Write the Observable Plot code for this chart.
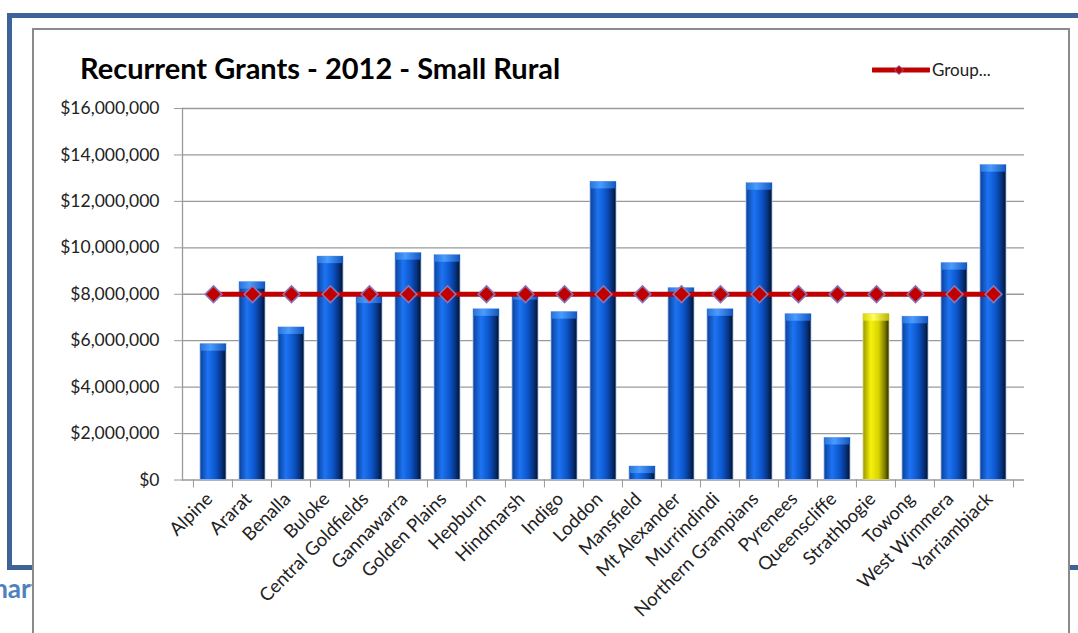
<!DOCTYPE html>
<html lang="en">
<head>
<meta charset="UTF-8">
<title>Recurrent Grants - 2012 - Small Rural</title>
<script src="https://cdn.jsdelivr.net/npm/d3@7"></script>
<script src="https://cdn.jsdelivr.net/npm/@observablehq/plot@0.6"></script>
<style>
  body { margin: 0; background: #fff; font-family: Lato, "Open Sans", sans-serif; }
  #page { position: relative; width: 1078px; height: 633px; overflow: hidden; background: #fff; }
  #frame { position: absolute; left: 7px; top: 13px; width: 1200px; height: 547px; border: 5px solid #3e6497; }
  #heading { position: absolute; left: -24px; top: 572px; font-size: 26px; font-weight: bold; color: #4f81bd; }
  #box { position: absolute; left: 32px; top: 28px; width: 1034px; height: 640px; border: 2px solid #8a8a8a; background: #fff; }
  #title { position: absolute; left: 46px; top: 20px; font-size: 29px; font-weight: bold; color: #000; white-space: nowrap; }
  #legend { position: absolute; left: 838px; top: 29px; font-size: 17px; color: #222; display: flex; align-items: center; }
  #legend svg { margin-right: 2px; }
  #chart { position: absolute; left: 0; top: 0; }
</style>
</head>
<body>
<div id="page">
  <div id="frame"></div>
  <div id="heading">Chart</div>
  <div id="box">
    <div id="chart"></div>
    <div id="title">Recurrent Grants - 2012 - Small Rural</div>
    <div id="legend">
      <svg width="58" height="16">
        <line x1="1" x2="57" y1="8" y2="8" stroke="#c00000" stroke-width="5" stroke-linecap="round"></line>
        <path d="M27,3.5L31.5,8L27,12.5L22.5,8Z" fill="#c00000" stroke="#8064a2" stroke-width="1"></path>
      </svg>
      <span>Group...</span>
    </div>
  </div>
</div>

<script>
  const councils = ["Alpine", "Ararat", "Benalla", "Buloke", "Central Goldfields", "Gannawarra",
    "Golden Plains", "Hepburn", "Hindmarsh", "Indigo", "Loddon", "Mansfield", "Mt Alexander",
    "Murrindindi", "Northern Grampians", "Pyrenees", "Queenscliffe", "Strathbogie", "Towong",
    "West Wimmera", "Yarriambiack"];

  const grants = [5850000, 8520000, 6570000, 9620000, 7900000, 9770000,
    9680000, 7350000, 8050000, 7230000, 12840000, 580000, 8260000,
    7350000, 12780000, 7140000, 1810000, 7140000, 7030000,
    9340000, 13560000];

  const groupAverage = [8000000, 8000000, 8000000, 8000000, 8000000, 8000000,
    8000000, 8000000, 8000000, 8000000, 8000000, 8000000, 8000000,
    8000000, 8000000, 8000000, 8000000, 8000000, 8000000,
    8000000, 8000000];

  const highlighted = "Strathbogie";

  const yTicks = [0, 2000000, 4000000, 6000000, 8000000, 10000000, 12000000, 14000000, 16000000];

  const rows = councils.map((name, i) => ({ name, grant: grants[i], group: groupAverage[i] }));
  const blueRows = rows.filter(d => d.name !== highlighted);
  const yellowRows = rows.filter(d => d.name === highlighted);

  const W = 1034, H = 603, mL = 148, mR = 44;
  const step = (W - mL - mR) / councils.length;
  const money = d => "$" + d3.format(",")(d);
  const axisGrey = "#9a9a9a";

  const chart = Plot.plot({
    width: W,
    height: H,
    marginLeft: mL,
    marginRight: mR,
    marginTop: 78,
    marginBottom: 153.5,
    style: { fontFamily: "Lato, 'Open Sans', sans-serif", fontSize: "15px", color: "#222", background: "transparent", overflow: "visible" },
    x: { domain: councils, padding: 0.33, axis: null, label: null },
    y: { domain: [0, 16000000], axis: null, label: null },
    marks: [
      Plot.gridY(yTicks.slice(1), { stroke: axisGrey, strokeOpacity: 1, strokeWidth: 1.3 }),
      Plot.axisY(yTicks, { tickSize: 8, tickPadding: 15, tickFormat: money, stroke: axisGrey, strokeOpacity: 1, fontSize: 17.5, fill: "#222", label: null }),
      Plot.frame({ anchor: "left", stroke: axisGrey, strokeWidth: 1.3 }),
      Plot.ruleY([0], { stroke: axisGrey, strokeWidth: 1.3 }),
      Plot.axisX({ tickSize: 8, dx: -step / 2, tickFormat: () => "", stroke: axisGrey, strokeOpacity: 1, label: null }),
      Plot.axisX([councils[councils.length - 1]], { tickSize: 8, dx: step / 2, tickFormat: () => "", stroke: axisGrey, strokeOpacity: 1, label: null }),
      Plot.axisX({ tickSize: 0, tickPadding: 16, dx: -4, tickRotate: -45, fontSize: 18.5, fill: "#222", label: null }),
      Plot.barY(blueRows, { x: "name", y: "grant", fill: "url(#gBlue)", stroke: "#9fbbea", strokeWidth: 0.8 }),
      Plot.barY(yellowRows, { x: "name", y: "grant", fill: "url(#gYellow)", stroke: "#d8d890", strokeWidth: 0.8 }),
      Plot.barY(blueRows, { x: "name", y1: "grant", y2: "grant", insetBottom: -7, fill: "url(#gBlueTop)" }),
      Plot.barY(yellowRows, { x: "name", y1: "grant", y2: "grant", insetBottom: -7, fill: "url(#gYellowTop)" }),
      Plot.line(rows, { x: "name", y: "group", stroke: "#c00000", strokeWidth: 5 }),
      Plot.dot(rows, { x: "name", y: "group", symbol: "diamond2", r: 7.5, fill: "#c00000", stroke: "#8a74b8", strokeWidth: 1.6 })
    ]
  });

  const defs = document.createElementNS("http://www.w3.org/2000/svg", "defs");
  defs.innerHTML = `
    <linearGradient id="gBlue" x1="0" x2="1" y1="0" y2="0">
      <stop offset="0" stop-color="#0b3f98"/>
      <stop offset="0.3" stop-color="#1d74f2"/>
      <stop offset="0.6" stop-color="#0c56cc"/>
      <stop offset="0.85" stop-color="#062f78"/>
      <stop offset="1" stop-color="#021026"/>
    </linearGradient>
    <linearGradient id="gBlueTop" x1="0" x2="1" y1="0" y2="0">
      <stop offset="0" stop-color="#2a72d8"/>
      <stop offset="0.4" stop-color="#4a9cff"/>
      <stop offset="1" stop-color="#1356c0"/>
    </linearGradient>
    <linearGradient id="gYellow" x1="0" x2="1" y1="0" y2="0">
      <stop offset="0" stop-color="#9a9400"/>
      <stop offset="0.3" stop-color="#f5f20a"/>
      <stop offset="0.6" stop-color="#d8d400"/>
      <stop offset="0.85" stop-color="#7a7600"/>
      <stop offset="1" stop-color="#2a2800"/>
    </linearGradient>
    <linearGradient id="gYellowTop" x1="0" x2="1" y1="0" y2="0">
      <stop offset="0" stop-color="#d8d400"/>
      <stop offset="0.4" stop-color="#ffff60"/>
      <stop offset="1" stop-color="#b8b400"/>
    </linearGradient>`;
  chart.insertBefore(defs, chart.firstChild);

  document.querySelector("#chart").append(chart);
</script>
</body>
</html>
